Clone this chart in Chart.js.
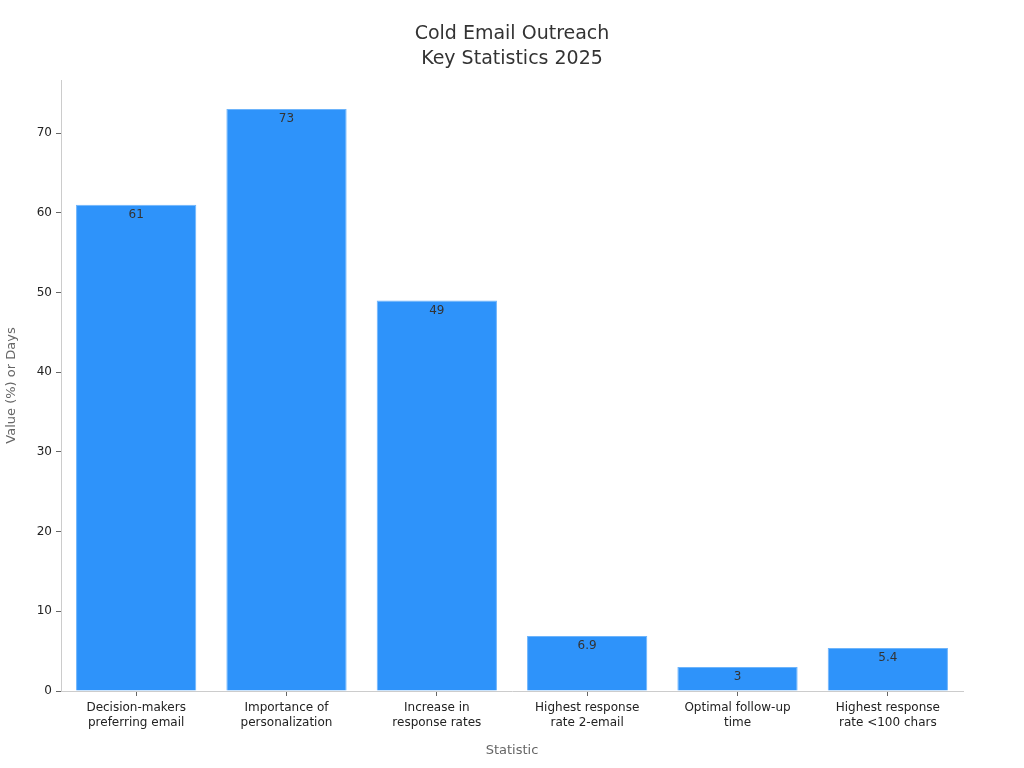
<!DOCTYPE html>
<html>
<head>
<meta charset="utf-8">
<script src="https://cdn.jsdelivr.net/npm/chart.js@4/dist/chart.umd.min.js"></script>
<style>
  html, body { margin: 0; padding: 0; background: #fff; }
  #wrap { width: 1024px; height: 768px; }
</style>
</head>
<body>
<div id="wrap"><canvas id="myChart" width="1024" height="768"></canvas></div>
<script>
var categories = [
  ["Decision-makers", "preferring email"],
  ["Importance of", "personalization"],
  ["Increase in", "response rates"],
  ["Highest response", "rate 2-email"],
  ["Optimal follow-up", "time"],
  ["Highest response", "rate <100 chars"]
];
var values = [61, 73, 49, 6.9, 3, 5.4];
var yTicks = [0, 10, 20, 30, 40, 50, 60, 70];
var titleLines = ['Cold Email Outreach', 'Key Statistics 2025'];

Chart.defaults.font.family = "'DejaVu Sans', sans-serif";
Chart.defaults.color = '#222';

// value text just inside the top of each bar, and title centred on the page
var barLabels = {
  id: 'barLabels',
  afterDatasetsDraw: function (chart) {
    var ctx = chart.ctx;
    var meta = chart.getDatasetMeta(0);
    ctx.save();
    ctx.font = "12px 'DejaVu Sans', sans-serif";
    ctx.fillStyle = '#333';
    ctx.textAlign = 'center';
    ctx.textBaseline = 'middle';
    meta.data.forEach(function (bar, i) {
      ctx.fillText(String(values[i]), bar.x, bar.y + 10);
    });
    ctx.font = "19px 'DejaVu Sans', sans-serif";
    titleLines.forEach(function (t, i) {
      ctx.fillText(t, chart.width / 2, 34 + i * 25);
    });
    ctx.restore();
  }
};

var myChart = new Chart(document.getElementById("myChart"), {
  type: 'bar',
  data: {
    labels: categories,
    datasets: [{
      label: 'Value',
      data: values,
      backgroundColor: '#2E93FA',
      borderColor: '#6DB4FB',
      borderWidth: 1,
      categoryPercentage: 0.8,
      barPercentage: 1.0
    }]
  },
  options: {
    responsive: false,
    animation: false,
    layout: { padding: { top: 80, right: 61, left: 0, bottom: 6 } },
    plugins: {
      legend: { display: false },
      tooltip: { enabled: false },
      title: { display: false }
    },
    scales: {
      x: {
        offset: true,
        border: { display: true, color: '#ccc' },
        grid: { display: true, offset: false, drawOnChartArea: false, tickLength: 5, color: '#666' },
        ticks: { font: { size: 12 }, color: '#222', padding: 5, maxRotation: 0 },
        title: { display: true, text: 'Statistic', color: '#666', font: { size: 13 }, padding: { top: 11 } },
        afterFit: function (scale) { scale.height = 71; }
      },
      y: {
        min: 0,
        max: 76.65,
        afterBuildTicks: function (scale) {
          scale.ticks = yTicks.map(function (v) { return { value: v }; });
        },
        border: { display: true, color: '#ccc' },
        grid: { display: true, drawOnChartArea: false, tickLength: 5, color: '#666' },
        ticks: { font: { size: 12 }, color: '#222', padding: 4 },
        title: { display: true, text: 'Value (%) or Days', color: '#666', font: { size: 13 }, padding: { top: 4, bottom: 4 } },
        afterFit: function (scale) { scale.width = 61; }
      }
    }
  },
  plugins: [barLabels]
});
</script>
</body>
</html>
